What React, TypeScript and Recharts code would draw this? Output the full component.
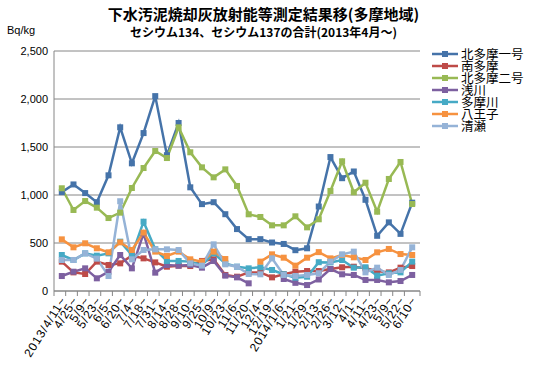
import { LineChart, Line, XAxis, YAxis, CartesianGrid, Legend } from "recharts";

const dates = [
  "2013/4/11~", "4/25~", "5/9~", "5/23~", "6/5~", "6/20~", "7/4~", "7/18~", "7/31~", "8/14~",
  "8/28~", "9/10~", "9/25~", "10/9~", "10/23~", "11/6~", "11/20~", "12/4~", "12/19~", "2014/1/6~",
  "1/21~", "1/29~", "2/13~", "2/26~", "3/12~", "4/1~", "4/11~", "4/23~", "5/9~", "5/22~", "6/10~",
];

const kitaTama1 = [
  1030, 1110, 1020, 925, 1205, 1705, 1330, 1645, 2030, 1415, 1750, 1080, 905, 925, 800, 645,
  540, 540, 505, 490, 425, 445, 880, 1395, 1175, 1245, 950, 575, 715, 595, 920,
];
const minamiTama = [
  306, 194, 177, 306, 271, 288, 368, 340, 298, 253, 264, 260, 313, 330, 167, 149,
  194, 194, 142, 174, 201, 208, 208, 229, 247, 253, 236, 208, 194, 243, 260,
];
const kitaTama2 = [
  1070, 844, 937, 868, 760, 816, 1073, 1281, 1458, 1385, 1705, 1445, 1288, 1184, 1267, 1094,
  799, 771, 684, 684, 778, 663, 747, 1042, 1351, 1028, 1128, 826, 1167, 1344, 906,
];
const asakawa = [
  156, 201, 236, 132, 201, 375, 236, 601, 191, 271, 264, 271, 243, 313, 160, 142,
  80, null, null, 125, 85, 62, 120, 229, 174, 167, 115, 115, 90, 104, 167,
];
const tamagawa = [
  375, 323, 392, 368, 392, 514, 375, 722, 434, 313, 313, 306, 271, 392, 288, 253,
  236, 247, 219, 174, 139, 149, 300, 298, 323, 243, 247, 160, 184, 194, 306,
];
const hachioji = [
  538, 455, 497, 445, 403, 507, 427, 608, 410, 365, 410, 330, 306, 410, 333, null,
  null, 306, 382, 347, 264, 347, 405, 340, 375, 351, 323, 403, 438, 385, 375,
];
const kiyose = [
  323, 323, 392, 337, 156, 935, 330, 427, 434, 434, 427, 288, 264, 486, 278, 253,
  177, 174, 340, 167, 156, 167, 185, 306, 382, 410, 194, 243, 167, 219, 455,
];

const yTicks = [0, 500, 1000, 1500, 2000, 2500];

const series = [
  { key: "北多摩一号", values: kitaTama1, color: "#4573A9" },
  { key: "南多摩", values: minamiTama, color: "#BE4B48" },
  { key: "北多摩二号", values: kitaTama2, color: "#98B954" },
  { key: "浅川", values: asakawa, color: "#7D60A0" },
  { key: "多摩川", values: tamagawa, color: "#46AAC5" },
  { key: "八王子", values: hachioji, color: "#F69240" },
  { key: "清瀬", values: kiyose, color: "#95B3D7" },
];

const data = dates.map((d, i) => {
  const row: any = { date: d, idx: i };
  series.forEach((s) => (row[s.key] = s.values[i]));
  return row;
});

const HALF = 7.8;
const LATIN = "'Liberation Sans', Arial, sans-serif";
const CJK = "'Noto Sans CJK JP', sans-serif";

const SquareDot = (props: any) => {
  const { cx, cy, stroke, index } = props;
  if (cx == null || cy == null) return <g key={index} />;
  return <rect key={index} x={cx - 3} y={cy - 3} width={6} height={6} fill={stroke} />;
};

const XTick = (props: any) => {
  const { x, y, payload, index, visibleTicksCount } = props;
  const last = index === visibleTicksCount - 1;
  const tx = x + 5;
  const ty = y + 9;
  return (
    <g>
      <line x1={x - HALF} x2={x - HALF} y1={y} y2={y + 5} stroke="#868686" />
      {last && <line x1={x + HALF} x2={x + HALF} y1={y} y2={y + 5} stroke="#868686" />}
      <text
        x={tx}
        y={ty}
        textAnchor="end"
        fontSize={12}
        letterSpacing={0.9}
        fontFamily={LATIN}
        fill="#000"
        transform={`rotate(-58, ${tx}, ${ty})`}
      >
        {dates[payload.value] ?? payload.value}
      </text>
    </g>
  );
};

const LegendBox = () => (
  <div style={{ fontFamily: CJK, fontSize: 12.5, lineHeight: "12px" }}>
    {series.map((s) => (
      <div key={s.key} style={{ display: "flex", alignItems: "center", height: 12 }}>
        <svg width={28} height={12} style={{ flex: "none" }}>
          <line x1={1} x2={27} y1={6} y2={6} stroke={s.color} strokeWidth={2.5} />
          <rect x={11} y={3} width={6} height={6} fill={s.color} />
        </svg>
        <span style={{ marginLeft: 2, whiteSpace: "nowrap", color: "#000" }}>{s.key}</span>
      </div>
    ))}
  </div>
);

export default function App() {
  return (
    <div
      style={{
        position: "absolute",
        left: 0,
        top: 0,
        width: 548,
        height: 372,
        background: "#fff",
        overflow: "hidden",
      }}
    >
      <div
        style={{
          position: "absolute",
          left: 0,
          width: 527,
          top: 5,
          textAlign: "center",
          fontFamily: CJK,
          fontWeight: 700,
          fontSize: 15,
          lineHeight: "18px",
          color: "#000",
        }}
      >
        下水汚泥焼却灰放射能等測定結果移(多摩地域)
      </div>
      <div
        style={{
          position: "absolute",
          left: 0,
          width: 527,
          top: 24,
          textAlign: "center",
          fontFamily: CJK,
          fontWeight: 700,
          fontSize: 12,
          lineHeight: "16px",
          color: "#000",
        }}
      >
        セシウム134、セシウム137の合計(2013年4月～)
      </div>
      <div
        style={{
          position: "absolute",
          left: 7,
          top: 24,
          fontFamily: LATIN,
          fontSize: 11,
          color: "#000",
        }}
      >
        Bq/kg
      </div>
      <LineChart
        width={548}
        height={372}
        data={data}
        margin={{ top: 51, right: 11, left: 0, bottom: 0 }}
      >
        <CartesianGrid vertical={false} stroke="#868686" />
        <XAxis
          dataKey="idx"
          type="category"
          interval={0}
          padding={{ left: HALF, right: HALF }}
          height={81}
          tickLine={false}
          tickSize={0}
          tickMargin={0}
          axisLine={{ stroke: "#868686" }}
          tick={<XTick />}
        />
        <YAxis
          width={54}
          domain={[0, 2500]}
          ticks={yTicks}
          interval={0}
          tickLine={false}
          tickSize={4}
          tickMargin={2}
          axisLine={{ stroke: "#868686" }}
          tick={{ fontSize: 11, fill: "#000", fontFamily: LATIN }}
          tickFormatter={(v: number) => v.toLocaleString("en-US")}
        />
        <Legend
          layout="vertical"
          verticalAlign="top"
          align="right"
          content={<LegendBox />}
          wrapperStyle={{ position: "absolute", top: 48, left: 431, right: "auto", width: 117 }}
        />
        {series.map((s) => (
          <Line
            key={s.key}
            dataKey={s.key}
            name={s.key}
            stroke={s.color}
            strokeWidth={2.5}
            dot={<SquareDot />}
            activeDot={false}
            isAnimationActive={false}
          />
        ))}
      </LineChart>
    </div>
  );
}
